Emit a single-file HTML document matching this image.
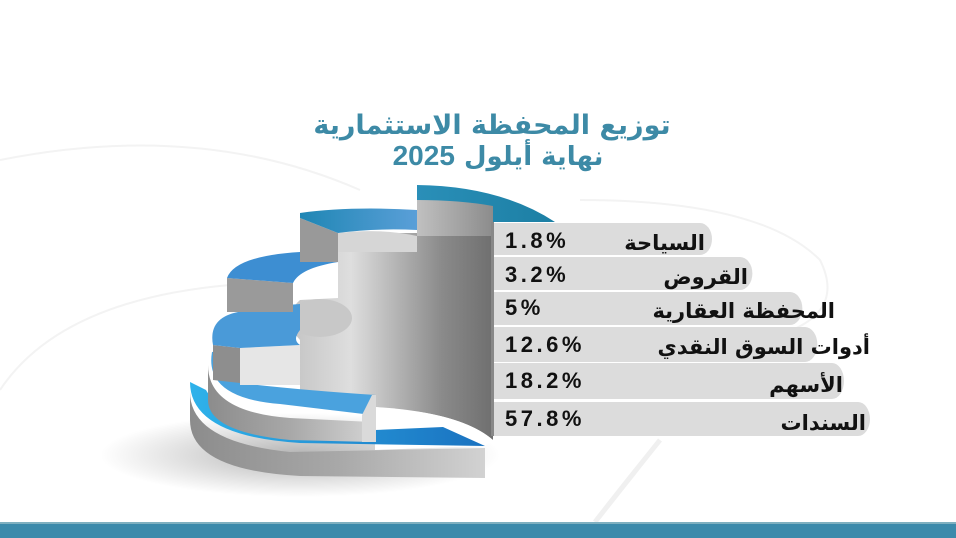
<!DOCTYPE html>
<html><head><meta charset="utf-8"><style>
body{margin:0;width:956px;height:538px;overflow:hidden;background:#fff;font-family:"Liberation Sans","DejaVu Sans",sans-serif}
svg{position:absolute;left:0;top:0}
</style></head><body>
<svg width="956" height="538" viewBox="0 0 956 538">
<defs>
<linearGradient id="cyl" x1="0" x2="1" y1="0" y2="0"><stop offset="0" stop-color="#c4c4c4"/><stop offset="0.3" stop-color="#dedede"/><stop offset="0.75" stop-color="#8a8a8a"/><stop offset="1" stop-color="#6f6f6f"/></linearGradient>
<linearGradient id="face2" x1="0" x2="1"><stop offset="0" stop-color="#c0c0c0"/><stop offset="1" stop-color="#8c8c8c"/></linearGradient>
<linearGradient id="wall" x1="0" x2="1"><stop offset="0" stop-color="#8c8c8c"/><stop offset="0.5" stop-color="#a8a8a8"/><stop offset="1" stop-color="#d2d2d2"/></linearGradient>
<linearGradient id="b1" x1="0" x2="1"><stop offset="0" stop-color="#2a8fb8"/><stop offset="1" stop-color="#1c7fa4"/></linearGradient>
<linearGradient id="b2" x1="0" x2="1"><stop offset="0" stop-color="#1f86b4"/><stop offset="1" stop-color="#5a9fd8"/></linearGradient>
<linearGradient id="b6" x1="0" x2="1"><stop offset="0" stop-color="#2eb2ea"/><stop offset="1" stop-color="#1a72c0"/></linearGradient>
<radialGradient id="sh" cx="0.5" cy="0.5" r="0.5"><stop offset="0" stop-color="#000" stop-opacity="0.3"/><stop offset="1" stop-color="#000" stop-opacity="0"/></radialGradient>
</defs>
<path d="M0,160 Q200,120 360,190" stroke="#f3f3f3" stroke-width="2" fill="none"/>
<path d="M0,390 Q60,300 230,285" stroke="#f3f3f3" stroke-width="2" fill="none"/>
<path d="M580,200 Q760,200 820,260 Q850,320 760,340" stroke="#f3f3f3" stroke-width="2" fill="none"/>
<path d="M660,440 Q620,490 595,522" stroke="#f0f0f0" stroke-width="5" fill="none"/>
<ellipse cx="300" cy="455" rx="200" ry="42" fill="url(#sh)"/>
<!-- central cylinder -->
<path d="M338,233 H493 V440 Q470,420 420,412 L375,407 L300,400 L300,340 Q280,318 300,300 L338,298 Z" fill="url(#cyl)"/>
<ellipse cx="320" cy="318" rx="32" ry="19" fill="#c8c8c8"/>
<path d="M375,407 Q460,412 493,440 L485,446 L375,450 Z" fill="#fff"/>
<!-- T6 -->
<path d="M190,392 Q190,442 290,452 L485,448 V478 L300,476 Q190,470 190,420 Z" fill="url(#wall)"/>
<path d="M190,382 Q190,436 300,443 L485,446 L443,427 L375,430 Q222,422 206,390 Z" fill="url(#b6)"/>
<!-- T5 -->
<path d="M208,365 Q208,412 290,418 L372,422 V442 L290,440 Q208,432 208,400 Z" fill="url(#wall)"/>
<path d="M212,352 Q204,398 280,404 L372,415 L376,395 Q300,390 240,383 L240,348 Z" fill="#4aa2de"/>
<path d="M372,395 L376,395 L376,442 L362,442 L362,415 Z" fill="#dadada"/>
<!-- T4 -->
<path d="M213,345 L240,348 L240,383 L213,380 Z" fill="#8e8e8e"/>
<path d="M240,348 L300,345 L300,385 L240,385 Z" fill="#e6e6e6"/>
<path d="M213,345 Q208,318 238,312 Q270,306 300,304 L300,330 Q292,340 300,345 L240,348 Z" fill="#4a9ad8"/>
<!-- T3 -->
<path d="M227,278 L293,283 L293,312 L227,312 Z" fill="#9a9a9a"/>
<path d="M227,278 Q235,256 300,252 L338,252 L338,262 Q300,268 293,283 Z" fill="#3d8ed2"/>
<!-- T2 -->
<path d="M300,218 L338,233 L338,262 L300,262 Z" fill="#999"/>
<path d="M338,233 Q380,228 417,236 L417,252 L338,252 Z" fill="#d6d6d6"/>
<path d="M300,218 L300,213 Q350,206 417,210 L417,230 Q375,228 338,233 Z" fill="url(#b2)"/>
<!-- T1 -->
<path d="M417,200 L493,200 L493,236 L417,236 Z" fill="url(#face2)"/>
<path d="M417,200 L417,185 Q500,186 555,222 L493,222 L493,206 Q460,200 417,200 Z" fill="url(#b1)"/>
<!-- label boxes -->
<g fill="#dcdcdc">
<path d="M493,223 H700 a12,16 0 0 1 0,32 H493 Z"/>
<path d="M493,257 H740 a12,16 0 0 1 0,33 H493 Z"/>
<path d="M493,292 H790 a12,16 0 0 1 0,33 H493 Z"/>
<path d="M493,327 H805 a12,17 0 0 1 0,35 H493 Z"/>
<path d="M493,363 H832 a12,18 0 0 1 0,36 H493 Z"/>
<path d="M493,402 H858 a12,17 0 0 1 0,34 H493 Z"/>
</g>
<rect x="491" y="222" width="3" height="214" fill="#888"/>
<g font-weight="bold" font-size="22" fill="#111" letter-spacing="3.5">
<text x="505" y="248">1.8%</text>
<text x="505" y="282">3.2%</text>
<text x="505" y="315">5%</text>
<text x="505" y="352">12.6%</text>
<text x="505" y="388">18.2%</text>
<text x="505" y="426">57.8%</text>
</g>
<g font-size="21" fill="#111" text-anchor="end" font-family="'DejaVu Sans',sans-serif" font-weight="bold">
<text x="705" y="250">السياحة</text>
<text x="748" y="284">القروض</text>
<text x="835" y="318">المحفظة العقارية</text>
<text x="870" y="354">أدوات السوق النقدي</text>
<text x="843" y="392">الأسهم</text>
<text x="866" y="430">السندات</text>
</g>
<g fill="#3d8aa6" font-weight="bold" text-anchor="middle" font-family="'DejaVu Sans',sans-serif">
<text x="492" y="134" font-size="27">توزيع المحفظة الاستثمارية</text>
<text x="498" y="165" font-size="26">نهاية أيلول <tspan font-family="'Liberation Sans',sans-serif" font-size="28">2025</tspan></text>
</g>
<rect x="0" y="522" width="956" height="16" fill="#3c8aab"/>
<rect x="0" y="522" width="956" height="2" fill="#7fb0c0"/>
</svg>
</body></html>
